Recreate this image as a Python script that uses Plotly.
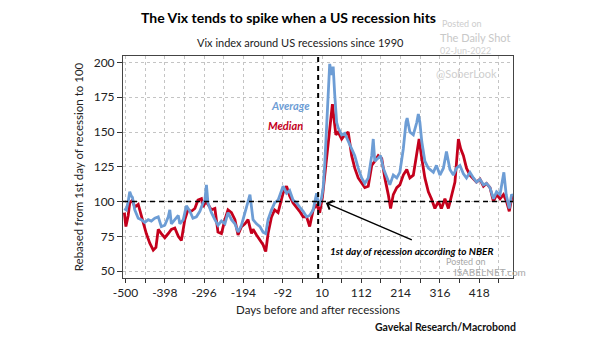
import plotly.graph_objects as go

# Days around the first day of each US recession (day 0) and the Vix rebased to 100
avg_days = [-503, -498, -493, -489, -485, -482, -476, -467, -459, -450, -441, -433, -424, -415,
            -407, -398, -389, -385, -381, -372, -363, -359, -350, -342, -333, -325, -316, -307,
            -299, -294, -290, -286, -277, -268, -260, -251, -242, -234, -225, -216, -208, -199,
            -190, -182, -177, -169, -160, -151, -143, -136, -130, -121, -113, -104, -98, -91,
            -82, -74, -65, -56, -48, -39, -30, -22, -13, -4, 0, 4, 9, 13, 17, 22, 26, 30, 35,
            39, 43, 48, 52, 57, 61, 69, 78, 87, 95, 104, 113, 121, 130, 139, 143, 147, 156,
            162, 169, 178, 186, 195, 204, 212, 221, 228, 231, 238, 247, 256, 260, 264, 269,
            277, 286, 299, 307, 316, 325, 333, 342, 351, 359, 368, 377, 385, 394, 403, 411,
            420, 429, 437, 446, 455, 463, 472, 482, 488, 496, 502, 506]
avg_vals = [95, 94, 100, 107, 104, 103, 94, 88, 87, 85, 87, 86, 88, 89,
            82, 83, 89, 94, 84, 87, 90, 84, 87, 97, 93, 88, 89, 93,
            99, 101, 112, 99, 92, 87, 83, 86, 84, 92, 87, 84, 78, 83,
            92, 101, 105, 87, 84, 82, 78, 77, 87, 94, 99, 101, 106, 111,
            106, 108, 101, 99, 96, 93, 89, 90, 94, 106, 99, 98, 103, 110, 126, 157, 184, 199, 191,
            197, 177, 157, 153, 150, 148, 149, 143, 138, 133, 124, 117, 113, 117, 133, 145, 129, 131,
            133, 124, 117, 112, 119, 117, 121, 138, 157, 160, 150, 148, 157, 163, 157, 143,
            129, 124, 121, 126, 119, 124, 136, 123, 119, 124, 126, 120, 117, 121, 117, 114,
            116, 112, 113, 110, 102, 107, 105, 121, 105, 95, 105, 104]

med_days = [-503, -499, -493, -489, -482, -476, -467, -459, -453, -446, -437, -428, -421, -415,
            -407, -398, -389, -381, -372, -363, -355, -346, -338, -329, -320, -312, -303, -299,
            -292, -286, -277, -268, -260, -251, -242, -234, -225, -216, -208, -199, -190, -182,
            -173, -169, -160, -151, -143, -136, -130, -121, -113, -104, -91, -82, -74, -65, -56,
            -48, -39, -30, -22, -13, -4, 4, 11, 17, 23, 30, 37, 41, 46, 52, 61, 69, 78, 87, 95,
            104, 113, 121, 130, 139, 147, 156, 165, 173, 182, 188, 195, 204, 212, 221, 230, 238,
            247, 256, 262, 269, 277, 286, 294, 303, 312, 320, 329, 338, 346, 355, 364, 370, 377,
            385, 394, 403, 411, 420, 429, 437, 446, 455, 463, 472, 481, 489, 496, 502, 506]
med_vals = [92, 82, 90, 99, 101, 96, 98, 90, 83, 77, 70, 65, 67, 80,
            77, 74, 77, 80, 81, 75, 72, 87, 94, 93, 95, 101, 102, 96,
            100, 98, 94, 95, 78, 77, 87, 94, 92, 87, 76, 82, 84, 87,
            77, 80, 76, 72, 69, 64, 77, 89, 94, 92, 106, 111, 104, 99, 96,
            93, 89, 89, 82, 94, 98, 92, 103, 119, 133, 150, 170, 160, 148, 150, 145, 148, 150, 133, 124,
            117, 113, 110, 111, 126, 129, 133, 131, 117, 105, 95, 105, 110, 112, 119, 123, 117,
            119, 136, 145, 131, 117, 107, 102, 95, 100, 95, 102, 95, 105, 114, 145, 138, 133,
            124, 119, 116, 114, 116, 111, 113, 110, 100, 105, 102, 105, 100, 93, 102, 105]

x_tick_vals = [-500, -398, -296, -194, -92, 10, 112, 214, 316, 418]
x_tick_text = [str(v) for v in x_tick_vals]
y_tick_vals = [50, 75, 100, 125, 150, 175, 200]

BLUE = "#6d9dd5"
RED = "#c4001c"
FONT = "Lato, sans-serif"

fig = go.Figure()
fig.add_trace(go.Scatter(x=med_days, y=med_vals, mode="lines", name="Median",
                         line=dict(color=RED, width=2.8), showlegend=False))
fig.add_trace(go.Scatter(x=avg_days, y=avg_vals, mode="lines", name="Average",
                         line=dict(color=BLUE, width=2.8), showlegend=False))

# reference lines: rebasing level and first day of recession
fig.add_shape(type="line", xref="paper", yref="y", x0=0, x1=1, y0=100, y1=100,
              line=dict(color="black", width=1.6, dash="5px,4px"), layer="above")
fig.add_shape(type="line", xref="x", yref="paper", x0=0, x1=0, y0=0, y1=1,
              line=dict(color="black", width=2, dash="5px,4px"), layer="above")

grid = dict(showgrid=True, gridcolor="#c4c4c4", griddash="dot", gridwidth=1)
fig.update_xaxes(range=[-506.5, 505.7], tickmode="array", tickvals=x_tick_vals,
                 ticktext=x_tick_text, ticks="outside", ticklen=4, tickcolor="#333",
                 showline=True, linecolor="#444", linewidth=1, mirror=True,
                 minor=dict(tick0=-500, dtick=51, ticks="outside", ticklen=4,
                            tickcolor="#333", **grid),
                 zeroline=False, tickfont=dict(size=12, color="#222", family=FONT),
                 title=dict(text="Days before and after recessions", standoff=6,
                            font=dict(size=11.5, color="#222", family=FONT)),
                 **grid)
fig.update_yaxes(range=[45, 204.7], tickmode="array", tickvals=y_tick_vals,
                 ticks="outside", ticklen=5, tickcolor="#333",
                 showline=True, linecolor="#444", linewidth=1, mirror=True,
                 zeroline=False, tickfont=dict(size=12, color="#222", family=FONT),
                 title=dict(text="Rebased from 1st day of recession to 100", standoff=7,
                            font=dict(size=11.5, color="#222", family=FONT)),
                 **grid)

annotations = [
    dict(text="<b>The Vix tends to spike when a US recession hits</b>", x=288, y=17,
         font=dict(size=14, color="black")),
    dict(text="Vix index around US recessions since 1990", x=300, y=43,
         font=dict(size=11, color="#222")),
    dict(text="<b>Gavekal Research/Macrobond</b>", x=518, y=327, xanchor="right",
         font=dict(size=10.5, color="#111")),
    dict(text="Posted on", x=440, y=24, xanchor="left", font=dict(size=9, color="#cdcdcd")),
    dict(text="The Daily Shot", x=438, y=37, xanchor="left", font=dict(size=11, color="#c8c8c8")),
    dict(text="02-Jun-2022", x=438, y=50, xanchor="left", font=dict(size=9, color="#d0d0d0")),
    dict(text="@SoberLook", x=466, y=74, font=dict(size=11, color="#cfcfcf")),
    dict(text="Posted on", x=466, y=261, font=dict(size=9, color="#a9a9a9")),
    dict(text="ISABELNET.com", x=490, y=272, font=dict(size=10, color="#a9a9a9")),
]
for a in annotations:
    a.setdefault("xanchor", "center")
    a["font"].setdefault("family", FONT)
    fig.add_annotation(xref="paper", yref="paper", showarrow=False, yanchor="middle",
                       **{k: v for k, v in a.items() if k not in ("x", "y")},
                       x=(a["x"] - 123) / (513 - 123), y=(278 - a["y"]) / (278 - 56))

# series labels inside the plot
fig.add_annotation(x=-71, y=169, xref="x", yref="y", text="<b><i>Average</i></b>", showarrow=False,
                   font=dict(size=11, color=BLUE, family=FONT))
fig.add_annotation(x=-84, y=155, xref="x", yref="y", text="<b><i>Median</i></b>", showarrow=False,
                   font=dict(size=11, color=RED, family=FONT))

# arrow pointing at the first day of recession
fig.add_annotation(x=20, y=99, ax=247, ay=72, xref="x", yref="y", axref="x", ayref="y",
                   text="", showarrow=True, arrowhead=4, arrowsize=1.2, arrowwidth=1.5,
                   arrowcolor="black")
fig.add_annotation(x=243, y=64.5, xref="x", yref="y",
                   text="<b><i>1st day of recession according to NBER</i></b>", showarrow=False,
                   font=dict(size=10, color="black", family=FONT))

fig.update_layout(width=605, height=341, margin=dict(l=123, r=92, t=56, b=63, autoexpand=False),
                  plot_bgcolor="white", paper_bgcolor="white", showlegend=False,
                  font=dict(family=FONT))
fig.write_html("out.html")
